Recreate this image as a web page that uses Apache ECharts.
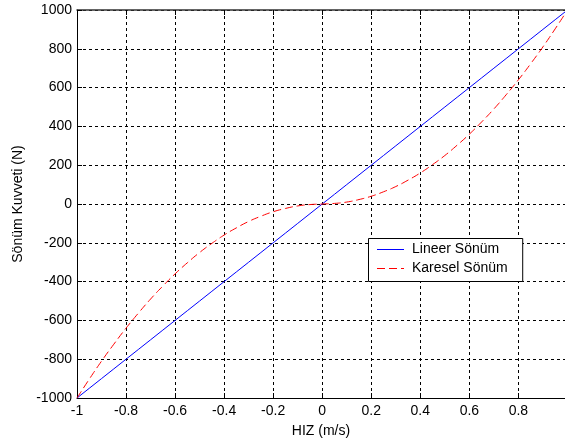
<!DOCTYPE html>
<html><head><meta charset="utf-8">
<script src="https://cdn.jsdelivr.net/npm/echarts@6/dist/echarts.min.js"></script>
<style>html,body{margin:0;padding:0;background:#fff}#c{width:565px;height:445px}</style>
</head><body><div id="c"></div>
<script>
var hiz = [-1,-0.95,-0.9,-0.85,-0.8,-0.75,-0.7,-0.65,-0.6,-0.55,-0.5,-0.45,-0.4,-0.35,-0.3,-0.25,-0.2,-0.15,-0.1,-0.05,0,0.05,0.1,0.15,0.2,0.25,0.3,0.35,0.4,0.45,0.5,0.55,0.6,0.65,0.7,0.75,0.8,0.85,0.9,0.95,0.99];
var lineer = [-1000,-950,-900,-850,-800,-750,-700,-650,-600,-550,-500,-450,-400,-350,-300,-250,-200,-150,-100,-50,0,50,100,150,200,250,300,350,400,450,500,550,600,650,700,750,800,850,900,950,990];
var karesel = [-1000,-903,-810,-723,-640,-563,-490,-423,-360,-303,-250,-203,-160,-123,-90,-63,-40,-23,-10,-3,0,3,10,23,40,63,90,123,160,203,250,303,360,423,490,563,640,723,810,903,980];
var seriesNames = ['Lineer Sönüm','Karesel Sönüm'];
var seriesColors = ['#0000ff','#ff0000'];
var xTitle = 'HIZ (m/s)';
var yTitle = 'Sönüm Kuvveti (N)';

function pairs(xs, ys){ return xs.map(function(x,i){return [x, ys[i]];}); }
var font = 'Liberation Sans, Arial, sans-serif';
var fs = 14;
var chart = echarts.init(document.getElementById('c'), null, {renderer:'canvas'});
chart.setOption({
  animation:false,
  backgroundColor:'#ffffff',
  grid:{left:77, top:10, right:0, bottom:47},
  xAxis:[{
    type:'value', min:-1, max:0.99, interval:0.2,
    name:xTitle, nameLocation:'middle', nameGap:26,
    nameTextStyle:{color:'#000', fontFamily:font, fontSize:fs},
    axisLine:{onZero:false, lineStyle:{color:'#000', width:1}},
    axisTick:{inside:true, length:5, lineStyle:{color:'#000'}},
    axisLabel:{color:'#000', fontFamily:font, fontSize:fs, margin:6, showMaxLabel:false,
      formatter:function(v){ return String(Math.round(v*10)/10); }},
    splitLine:{show:true, lineStyle:{color:'#000', type:[3,3], width:1}}
  },{
    type:'value', position:'top', min:-1, max:0.99, interval:0.2,
    axisLine:{onZero:false, lineStyle:{color:'#333', width:1.5}},
    axisTick:{inside:true, length:5, lineStyle:{color:'#000'}},
    axisLabel:{show:false}, splitLine:{show:false}
  }],
  yAxis:{
    type:'value', min:-1000, max:1000, interval:200,
    name:yTitle, nameLocation:'middle', nameGap:51,
    nameTextStyle:{color:'#000', fontFamily:font, fontSize:fs},
    axisLine:{onZero:false, lineStyle:{color:'#000', width:1}},
    axisTick:{inside:true, length:5, lineStyle:{color:'#000'}},
    axisLabel:{color:'#000', fontFamily:font, fontSize:fs, margin:5,
      formatter:function(v){ return String(v); }},
    splitLine:{show:true, lineStyle:{color:'#000', type:[3,3], width:1}}
  },
  legend:{
    orient:'vertical', left:368.5, top:238.5,
    data:[
      {name:seriesNames[0], lineStyle:{color:seriesColors[0], width:1, type:'solid'}},
      {name:seriesNames[1], lineStyle:{color:seriesColors[1], width:1, type:[8,4]}}
    ],
    itemStyle:{opacity:0},
    backgroundColor:'#fff', borderColor:'#000', borderWidth:1,
    padding:[4,15,6,8], itemGap:5, itemWidth:27, itemHeight:14,
    textStyle:{color:'#000', fontFamily:font, fontSize:fs, padding:[0,0,0,3]}
  },
  series:[{
    name:seriesNames[0], type:'line', data:pairs(hiz, lineer), symbol:'none',
    lineStyle:{color:seriesColors[0], width:1}, itemStyle:{color:seriesColors[0]}
  },{
    name:seriesNames[1], type:'line', data:pairs(hiz, karesel), symbol:'none', smooth:true,
    lineStyle:{color:seriesColors[1], width:1, type:[8,4]}, itemStyle:{color:seriesColors[1]}
  }]
});
</script></body></html>
